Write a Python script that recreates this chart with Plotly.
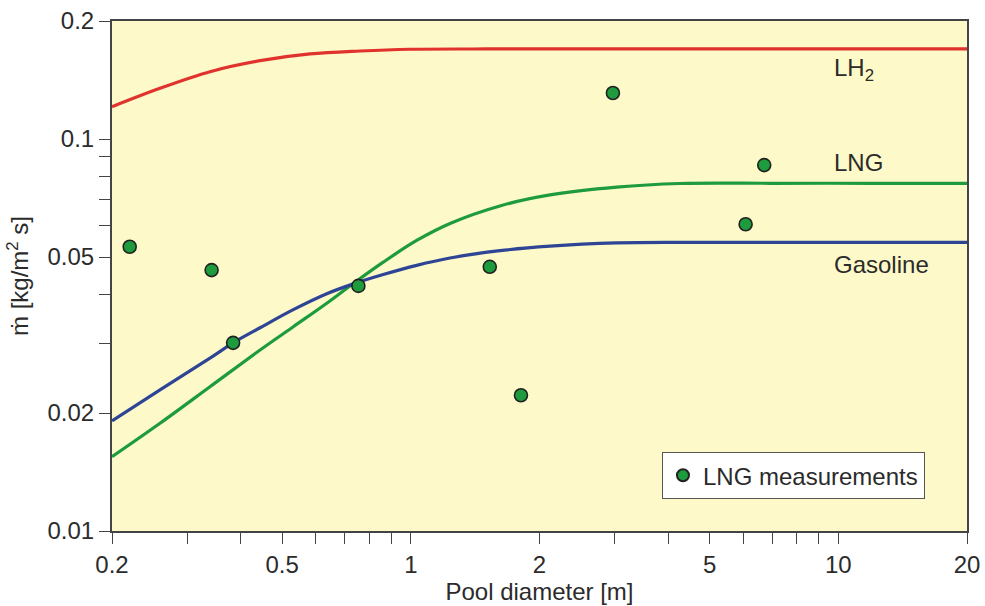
import math
import plotly.graph_objects as go

# Burning-rate curves (pool diameter [m] -> mass burning rate [kg/m^2 s])
lh2_d = [0.2, 0.259, 0.339, 0.444, 0.581, 0.761, 0.996, 1.5, 3, 7, 12, 20]
lh2_m = [0.1209, 0.1347, 0.1485, 0.1584, 0.1648, 0.1677, 0.1694, 0.1697, 0.1697, 0.1697, 0.1697, 0.1697]

lng_d = [0.2, 0.259, 0.339, 0.444, 0.531, 0.636, 0.734, 0.862, 1.032, 1.235, 1.616, 2.116, 3.03, 4.26, 7, 12, 20]
lng_m = [0.01547, 0.01883, 0.02334, 0.02896, 0.0332, 0.0381, 0.0428, 0.0485, 0.0551, 0.0609,
         0.0675, 0.0720, 0.0754, 0.0770, 0.0771, 0.0771, 0.0771]

gas_d = [0.2, 0.259, 0.339, 0.384, 0.444, 0.531, 0.636, 0.734, 0.862, 1.032, 1.235, 1.616, 2.116, 3.03, 4.26, 7, 12, 20]
gas_m = [0.0191, 0.0229, 0.0276, 0.0302, 0.0330, 0.0367, 0.0403, 0.0427, 0.0451, 0.0476, 0.0497,
         0.0519, 0.0533, 0.0543, 0.0545, 0.0545, 0.0545, 0.0545]

# LNG pool fire measurements
meas_d = [0.22, 0.342, 0.384, 0.754, 1.53, 1.81, 2.97, 6.07, 6.71]
meas_m = [0.0531, 0.0463, 0.0302, 0.0422, 0.0472, 0.0222, 0.131, 0.0606, 0.0858]

# Axis ticks
x_ticks = [0.2, 0.3, 0.4, 0.5, 0.6, 0.7, 0.8, 0.9, 1, 2, 3, 4, 5, 6, 7, 8, 9, 10, 20]
x_labels = {0.2: "0.2", 0.5: "0.5", 1: "1", 2: "2", 5: "5", 10: "10", 20: "20"}
y_ticks = [0.01, 0.02, 0.03, 0.04, 0.05, 0.06, 0.07, 0.08, 0.09, 0.1, 0.2]
y_labels = {0.01: "0.01", 0.02: "0.02", 0.05: "0.05", 0.1: "0.1", 0.2: "0.2"}

RED = "#E0332E"
GREEN = "#1E9B3C"
BLUE = "#2E4596"
FONT = "Liberation Sans, Arial, sans-serif"
TXT = "#2b2b2b"
FS = 24

fig = go.Figure()
for d, m, c in [(lh2_d, lh2_m, RED), (lng_d, lng_m, GREEN), (gas_d, gas_m, BLUE)]:
    fig.add_trace(go.Scatter(x=d, y=m, mode="lines", showlegend=False,
                             line=dict(color=c, width=3.2, shape="spline", smoothing=1.0)))

fig.add_trace(go.Scatter(x=meas_d, y=meas_m, mode="markers", name="LNG measurements",
                         marker=dict(size=13, color=GREEN, line=dict(color="#222222", width=1.6))))

labels = [("LH<sub>2</sub>", 0.904), ("LNG", 0.7216), ("Gasoline", 0.5216)]
for text, yp in labels:
    fig.add_annotation(x=0.842, y=yp, xref="paper", yref="paper", text=text, showarrow=False,
                       xanchor="left", yanchor="middle", font=dict(family=FONT, size=FS, color=TXT))

axis_common = dict(type="log", showgrid=False, zeroline=False, showline=True, linecolor="#444444",
                   linewidth=2, mirror=True, ticks="outside", ticklen=11, tickwidth=1.3,
                   tickcolor="#444444", tickfont=dict(family=FONT, size=FS, color=TXT),
                   automargin=False)

fig.update_xaxes(range=[math.log10(0.2), math.log10(20)], tickvals=x_ticks,
                 ticktext=[x_labels.get(v, "") for v in x_ticks],
                 title=dict(text="Pool diameter [m]", font=dict(family=FONT, size=FS, color=TXT), standoff=2),
                 **axis_common)
fig.update_yaxes(range=[math.log10(0.01), math.log10(0.2)], tickvals=y_ticks,
                 ticktext=[y_labels.get(v, "") for v in y_ticks],
                 title=dict(text="ṁ [kg/m<sup>2</sup> s]", font=dict(family=FONT, size=FS, color=TXT), standoff=12),
                 **axis_common)

fig.update_layout(
    width=985, height=606,
    margin=dict(l=112, r=18, t=21, b=75),
    paper_bgcolor="white", plot_bgcolor="#FEF9C8",
    legend=dict(x=0.643, y=0.155, xanchor="left", yanchor="top", bgcolor="white",
                bordercolor="#555555", borderwidth=1.2, font=dict(family=FONT, size=FS, color=TXT),
                itemsizing="constant"),
)

fig.write_html("out.html")
